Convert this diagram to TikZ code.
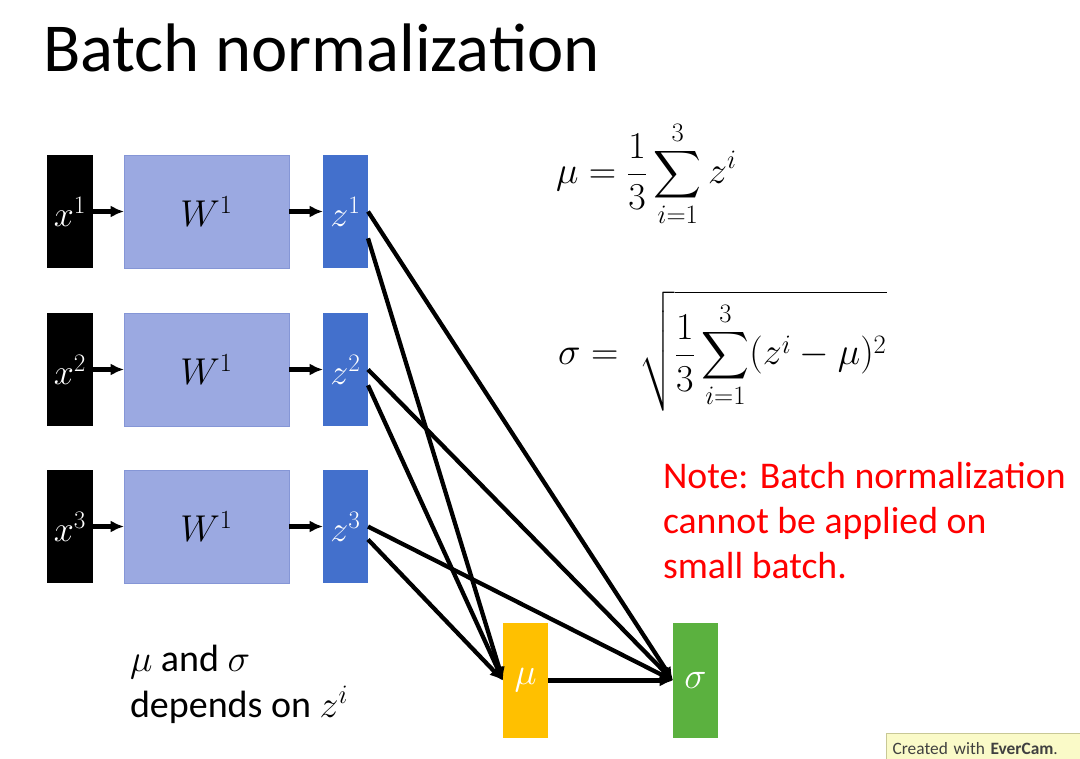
\documentclass[tikz,border=0pt]{standalone}
\usepackage{fix-cm}
\usepackage{exscale}
\usepackage{fontspec}
\setmainfont{Carlito}
\usetikzlibrary{positioning,arrows.meta}

\definecolor{wblue}{HTML}{9BA9E1}
\definecolor{wline}{HTML}{8596D6}
\definecolor{zblue}{HTML}{4370CC}
\definecolor{mugold}{HTML}{FFC000}
\definecolor{sigreen}{HTML}{5BB13F}
\definecolor{notered}{HTML}{FF0000}
\definecolor{camyellow}{HTML}{FAFAC8}
\definecolor{camline}{HTML}{C8C896}

\begin{document}
\begin{tikzpicture}[x=0.75pt, y=-0.75pt, >={Latex[length=10pt,width=9pt]},
  every node/.style={inner sep=0pt, outer sep=0pt},
  xbox/.style={fill=black, text=white, minimum width=34.5pt, minimum height=84.75pt, font=\fontsize{27}{32}\selectfont},
  wbox/.style={fill=wblue, draw=wline, line width=0.6pt, minimum width=123.75pt, minimum height=84.75pt, font=\fontsize{28}{32}\selectfont},
  zbox/.style={fill=zblue, text=white, minimum width=33.75pt, minimum height=84.75pt, font=\fontsize{27}{32}\selectfont},
  statbox/.style={text=white, minimum width=33.75pt, minimum height=86.25pt, font=\fontsize{28}{32}\selectfont},
  link/.style={line width=3.2pt}]
  \useasboundingbox (0,0) rectangle (1080,759);

  \node[anchor=base west, font=\fontsize{51.5}{62}\selectfont] (title) at (43,72) {Batch normalization};

  % the three examples of the batch
  \node[xbox] (x1) at (70,211.5) {$x^{1}$};
  \node[wbox, right=23.25pt of x1] (W1) {$W^{1}$};
  \node[zbox, right=25.5pt of W1] (z1) {$z^{1}$};
  \node[xbox, below=33.75pt of x1] (x2) {$x^{2}$};
  \node[wbox, right=23.25pt of x2] (W2) {$W^{1}$};
  \node[zbox, right=25.5pt of W2] (z2) {$z^{2}$};
  \node[xbox, below=33pt of x2] (x3) {$x^{3}$};
  \node[wbox, right=23.25pt of x3] (W3) {$W^{1}$};
  \node[zbox, right=25.5pt of W3] (z3) {$z^{3}$};

  \draw[->, link] (x1) -- (W1);
  \draw[->, link] (W1) -- (z1);
  \draw[->, link] (x2) -- (W2);
  \draw[->, link] (W2) -- (z2);
  \draw[->, link] (x3) -- (W3);
  \draw[->, link] (W3) -- (z3);

  % statistics
  \node[statbox, fill=mugold] (mu) at (525.5,680.5) {$\mu$};
  \node[statbox, fill=sigreen, right=93.75pt of mu] (sig) {$\sigma$};

  \draw[->, link] (z1.east) -- (sig.west);
  \draw[->, link] (z1.-50) -- (mu.west);
  \draw[->, link] (z2.east) -- (sig.west);
  \draw[->, link] (z2.-35) -- (mu.west);
  \draw[->, link] (z3.east) -- (sig.west);
  \draw[->, link] (z3.-30) -- (mu.west);
  \draw[->, link] (mu) -- (sig);

  % formulas and notes
  \node[anchor=west, font=\fontsize{28.5}{34}\selectfont] (mueq) at (556,174)
    {$\displaystyle \mu = \frac{1}{3}\sum_{i=1}^{3} z^{i}$};
  \node[anchor=west, font=\fontsize{28.5}{34}\selectfont] (sigeq) at (558,351)
    {$\displaystyle \sigma = \;\sqrt{\frac{1}{3}\sum_{i=1}^{3}(z^{i}-\mu)^{2}}$};
  \node[anchor=north west, align=left, text=notered, font=\fontsize{28.3}{33.75}\selectfont] (note) at (663,462)
    {Note: Batch normalization\\cannot be applied on\\small batch.};
  \node[anchor=north west, align=left, font=\fontsize{28.5}{34.5}\selectfont] (dep) at (130,645)
    {$\mu$ and $\sigma$\\depends on $z^{i}$};

  \node[anchor=north west, fill=camyellow, draw=camline, text width=140pt, align=left, minimum height=24pt,
    inner xsep=5pt, font=\fontsize{13}{15}\selectfont, text=black!75] (cam) at (886,733)
    {Created with \textbf{EverCam}.};
\end{tikzpicture}
\end{document}
